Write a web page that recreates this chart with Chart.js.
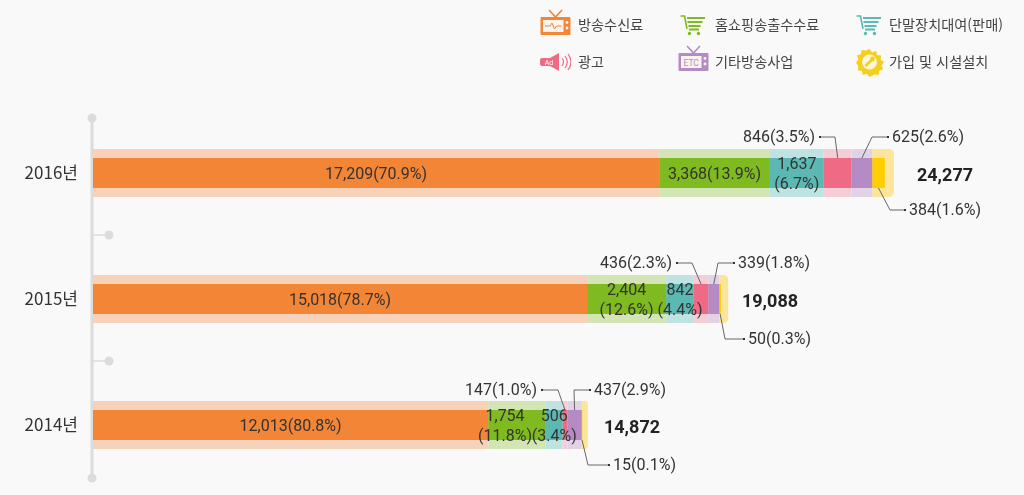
<!DOCTYPE html>
<html lang="ko">
<head>
<meta charset="utf-8">
<title>방송사업 매출</title>
<script src="https://cdn.jsdelivr.net/npm/chart.js@4"></script>
<style>
  html, body { margin: 0; padding: 0; background: #f9f9f9; }
  #wrap { position: relative; width: 1024px; height: 495px; overflow: hidden; }
  .lg-text { position: absolute; font: 14.2px "Noto Sans CJK KR", sans-serif; color: #444; line-height: 20px; white-space: nowrap; }
  .lg-icon { position: absolute; }
</style>
</head>
<body>
<div id="wrap">
  <canvas id="myChart" width="1024" height="495"></canvas>
</div>
<script>
const years = ['2016년', '2015년', '2014년'];
const seriesNames = ['방송수신료', '홈쇼핑송출수수료', '단말장치대여(판매)', '광고', '기타방송사업', '가입 및 시설설치'];

const receiving = [17209, 15018, 12013];
const homeShopping = [3368, 2404, 1754];
const terminal = [1637, 842, 506];
const ads = [846, 436, 147];
const otherBiz = [625, 339, 437];
const install = [384, 50, 15];
const totals = [24277, 19088, 14872];

const receivingPct = [70.9, 78.7, 80.8];
const homeShoppingPct = [13.9, 12.6, 11.8];
const terminalPct = [6.7, 4.4, 3.4];
const adsPct = [3.5, 2.3, 1.0];
const otherBizPct = [2.6, 1.8, 2.9];
const installPct = [1.6, 0.3, 0.1];

const values = [receiving, homeShopping, terminal, ads, otherBiz, install];
const pcts = [receivingPct, homeShoppingPct, terminalPct, adsPct, otherBizPct, installPct];

const coreColors = ['#f28536', '#7fba20', '#5cb8b2', '#ef6a85', '#b48bc4', '#ffce00'];
const haloColors = ['#f6d2ba', '#d3e5b5', '#bfe3e0', '#f5cdd6', '#e1d2e6', '#fbe59a'];

// the pale band runs a little past the end of the solid bar
const haloCap = totals.map((t) => t * 0.0115);

const datasets = [];
values.forEach((vals, s) => {
  const last = s === values.length - 1;
  datasets.push({
    label: seriesNames[s],
    data: vals,
    backgroundColor: coreColors[s],
    xAxisID: 'x',
    yAxisID: 'y',
    grouped: false,
    maxBarThickness: 30,
    order: 1,
  });
  datasets.push({
    label: seriesNames[s] + ' band',
    data: last ? vals.map((v, i) => v + haloCap[i]) : vals,
    backgroundColor: haloColors[s],
    xAxisID: 'x',
    yAxisID: 'yBand',
    grouped: false,
    maxBarThickness: 48,
    borderRadius: last ? { topRight: 5, bottomRight: 5 } : 0,
    borderSkipped: false,
    order: 2,
  });
});

function valueText(s, r) {
  return values[s][r].toLocaleString('en-US') + '(' + pcts[s][r].toFixed(1) + '%)';
}

// labels that sit on the bar: series, row, wrapped in two lines, nudge
const insideLabels = [
  [0, 0, false, 0], [0, 1, false, 0], [0, 2, false, 0],
  [1, 0, false, 0], [1, 1, true, 0], [1, 2, true, -12],
  [2, 0, true, 0], [2, 1, true, 0], [2, 2, true, 0],
];

// labels with a leader line: series, row, text x, text y, elbow x, side of the bar
const callouts = [
  [3, 0, 815, 137, 835, 'top'],
  [4, 0, 892, 137, 872, 'top'],
  [5, 0, 909, 210, 890, 'bottom'],
  [3, 1, 672, 263, 692, 'top'],
  [4, 1, 738, 263, 718, 'top'],
  [5, 1, 748, 339, 725, 'bottom'],
  [3, 2, 537, 390, 558, 'top'],
  [4, 2, 594, 390, 574, 'top'],
  [5, 2, 613, 465, 588, 'bottom'],
];

const totalLabelX = [945, 770, 632];

const timelinePlugin = {
  id: 'timeline',
  beforeDatasetsDraw(chart) {
    const { ctx } = chart;
    const y = chart.scales.y;
    const x0 = 92;
    const mid1 = (y.getPixelForValue(0) + y.getPixelForValue(1)) / 2 - 1;
    const mid2 = (y.getPixelForValue(1) + y.getPixelForValue(2)) / 2 - 1;
    ctx.save();
    ctx.strokeStyle = '#dcdcdc';
    ctx.fillStyle = '#dcdcdc';
    ctx.lineWidth = 3;
    ctx.beginPath();
    ctx.moveTo(x0, 118);
    ctx.lineTo(x0, 478);
    ctx.stroke();
    ctx.lineWidth = 1.5;
    [mid1, mid2].forEach((m) => {
      ctx.beginPath();
      ctx.moveTo(x0, m);
      ctx.lineTo(106, m);
      ctx.stroke();
      ctx.beginPath();
      ctx.arc(109, m, 4.5, 0, Math.PI * 2);
      ctx.fill();
    });
    [118, 478].forEach((p) => {
      ctx.beginPath();
      ctx.arc(x0, p, 4.5, 0, Math.PI * 2);
      ctx.fill();
    });
    ctx.restore();
  },
};

const valueLabelPlugin = {
  id: 'valueLabels',
  afterDatasetsDraw(chart) {
    const { ctx } = chart;
    ctx.save();
    ctx.font = '16px Roboto, sans-serif';
    ctx.textBaseline = 'middle';
    ctx.fillStyle = '#333';

    // on the bars
    ctx.textAlign = 'center';
    insideLabels.forEach(([s, r, wrapped, dx]) => {
      const bar = chart.getDatasetMeta(s * 2).data[r];
      const cx = (bar.x + bar.base) / 2 + dx;
      if (wrapped) {
        ctx.fillText(values[s][r].toLocaleString('en-US'), cx, bar.y - 8);
        ctx.fillText('(' + pcts[s][r].toFixed(1) + '%)', cx, bar.y + 12);
      } else {
        ctx.fillText(valueText(s, r), cx, bar.y + 2);
      }
    });

    // leader lines
    callouts.forEach(([s, r, tx, ty, elbow, side]) => {
      const bar = chart.getDatasetMeta(s * 2).data[r];
      const cx = (bar.x + bar.base) / 2;
      const edge = side === 'top' ? bar.y - 15 : bar.y + 15;
      const toLeft = elbow > tx;
      const dotX = toLeft ? tx + 5 : tx - 4;
      ctx.strokeStyle = '#666';
      ctx.lineWidth = 1;
      ctx.beginPath();
      ctx.moveTo(dotX, ty);
      ctx.lineTo(elbow, ty);
      ctx.lineTo(cx, edge);
      ctx.stroke();
      ctx.fillStyle = '#333';
      ctx.fillRect(dotX - 1, ty - 1, 2, 2);
      ctx.textAlign = toLeft ? 'right' : 'left';
      ctx.fillText(valueText(s, r), tx, ty + 1);
    });

    // totals
    ctx.font = 'bold 18px Roboto, sans-serif';
    ctx.textAlign = 'center';
    ctx.fillStyle = '#222';
    totals.forEach((t, r) => {
      const yPos = chart.scales.y.getPixelForValue(r);
      ctx.fillText(t.toLocaleString('en-US'), totalLabelX[r], yPos + 3);
    });
    ctx.restore();
  },
};

const ctx = document.getElementById('myChart').getContext('2d');
new Chart(ctx, {
  type: 'bar',
  data: { labels: years, datasets: datasets },
  options: {
    indexAxis: 'y',
    responsive: false,
    animation: false,
    layout: { padding: { top: 110, bottom: 7, left: 0, right: 0 } },
    plugins: { legend: { display: false }, tooltip: { enabled: false } },
    scales: {
      x: { stacked: true, display: false, min: 0, max: 28300 },
      y: {
        stacked: true,
        position: 'left',
        grid: { display: false },
        border: { display: false },
        afterFit(axis) {
          axis.width = 93;
          axis.paddingTop = 0;
          axis.paddingBottom = 0;
        },
        ticks: {
          color: '#333',
          padding: 7,
          font: { family: '"Noto Sans CJK KR", sans-serif', size: 17 },
        },
      },
      yBand: { type: 'category', stacked: true, display: false, position: 'left' },
    },
  },
  plugins: [timelinePlugin, valueLabelPlugin],
});

// legend icons
function tvIcon(color, inner) {
  return '<rect x="0.5" y="8" width="30" height="18" rx="1" fill="' + color + '"/>' +
    '<path d="M9 1l6.5 7l6.5-7" fill="none" stroke="' + color + '" stroke-width="1.6"/>' +
    '<rect x="3" y="11" width="20.5" height="12" fill="#fbf3ee"/>' +
    '<circle cx="27" cy="13.5" r="1.4" fill="#fff"/><circle cx="27" cy="19" r="1.4" fill="#fff"/>' + inner;
}
function cartIcon(color) {
  return '<path d="M0.5 1h4l2.5 13" fill="none" stroke="' + color + '" stroke-width="1.6"/>' +
    '<path d="M7 3h18M7.5 7h15M8.5 11h12M9 14.5h10" fill="none" stroke="' + color + '" stroke-width="1.8"/>' +
    '<circle cx="9.5" cy="18.5" r="1.7" fill="' + color + '"/><circle cx="18.5" cy="18.5" r="1.7" fill="' + color + '"/>';
}
const speakerIcon =
  '<path d="M2 5h8l9-5v18l-9-5H2a2 2 0 0 1-2-2V7a2 2 0 0 1 2-2z" fill="#ef6a85"/>' +
  '<text x="9" y="12" font-size="7" fill="#fff" text-anchor="middle" font-family="Roboto">Ad</text>' +
  '<path d="M22 5q3 4 0 8M25 3q4.5 6 0 12M28 1q6 8 0 16" fill="none" stroke="#ef6a85" stroke-width="1.2"/>';
const gearIcon =
  '<path d="M13.5 0l2.5 3.5 4-1.5 1 4 4.2.6-.6 4.2 3.4 2.2-2.4 3.4 1.6 3.9-4 1.4-.6 4.2-4.2-.5L13.5 28l-2.6-3.3-4 1.3-1-4-4.2-.8.7-4.2L0 13.8l2.4-3.4-1.5-3.9 4-1.3.7-4.2 4.2.6z" fill="#f5cf1d"/>' +
  '<circle cx="13.5" cy="13" r="7.5" fill="#fbf6dc"/>' +
  '<path d="M9.5 17l6-6" stroke="#f5cf1d" stroke-width="2.6"/><circle cx="16.5" cy="10" r="2.4" fill="#f5cf1d"/>';

const legendIcons = [
  { left: 540, top: 9, w: 31, h: 27, svg: tvIcon('#f28536', '<path d="M5 17h5l2-3 2.5 6 2-3h5" fill="none" stroke="#f28536" stroke-width="1"/>') },
  { left: 680, top: 15, w: 26, h: 21, svg: cartIcon('#7fba20') },
  { left: 856, top: 15, w: 26, h: 21, svg: cartIcon('#5cb8b2') },
  { left: 540, top: 53, w: 31, h: 19, svg: speakerIcon },
  { left: 678, top: 45, w: 31, h: 27, svg: tvIcon('#b48bc4', '<text x="13.2" y="20.5" font-size="8.5" fill="#b48bc4" text-anchor="middle" font-family="Roboto">ETC</text>') },
  { left: 856, top: 49, w: 28, h: 28, svg: gearIcon },
];
const legendTextPos = [[578, 14], [715, 14], [889, 14], [578, 51], [715, 51], [889, 51]];

const wrap = document.getElementById('wrap');
seriesNames.forEach((name, i) => {
  const ic = legendIcons[i];
  const holder = document.createElement('div');
  holder.className = 'lg-icon';
  holder.style.left = ic.left + 'px';
  holder.style.top = ic.top + 'px';
  holder.innerHTML = '<svg width="' + ic.w + '" height="' + ic.h + '" viewBox="0 0 ' + ic.w + ' ' + ic.h + '">' + ic.svg + '</svg>';
  wrap.appendChild(holder);
  const label = document.createElement('div');
  label.className = 'lg-text';
  label.style.left = legendTextPos[i][0] + 'px';
  label.style.top = legendTextPos[i][1] + 'px';
  label.textContent = name;
  wrap.appendChild(label);
});
</script>
</body>
</html>
